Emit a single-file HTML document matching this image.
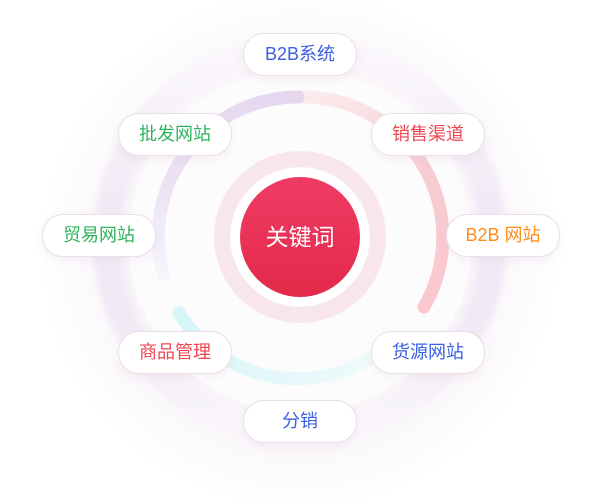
<!DOCTYPE html>
<html><head><meta charset="utf-8">
<style>
html,body{margin:0;padding:0;background:#fff;}
#w{position:relative;width:600px;height:498px;overflow:hidden;font-family:"Liberation Sans","Noto Sans CJK SC",sans-serif;}
svg{position:absolute;left:0;top:0;}
.p{position:absolute;width:112px;height:41px;border-radius:21px;background:#fff;border:1px solid #eadfe6;box-shadow:0 4px 10px rgba(200,170,200,0.15);text-align:center;line-height:41px;font-size:18px;}
.g{color:#2fb35d}.r{color:#ef4650}.b{color:#3a5fe6}.o{color:#ff8c1a}
#c{position:absolute;left:240px;top:177px;width:120px;height:120px;border-radius:50%;background:linear-gradient(#ef3b64,#e42a4a);color:#fff;font-size:23px;text-align:center;line-height:120px;}
</style></head><body><div id="w">
<svg width="600" height="498" viewBox="0 0 600 498">
<defs>
<radialGradient id="glow" cx="300" cy="250" r="260" gradientUnits="userSpaceOnUse">
<stop offset="0.6" stop-color="#f8f3f8"/><stop offset="0.85" stop-color="#fcfafc"/><stop offset="1" stop-color="#fff"/>
</radialGradient>
<linearGradient id="oring" x1="0" y1="40" x2="0" y2="440" gradientUnits="userSpaceOnUse">
<stop offset="0" stop-color="#fbf8fc"/><stop offset="0.4" stop-color="#f1eaf6"/><stop offset="0.7" stop-color="#f1eaf6"/><stop offset="1" stop-color="#faf7fb"/>
</linearGradient>
<filter id="bl"><feGaussianBlur stdDeviation="3"/></filter>
<linearGradient id="pk" x1="300" y1="97" x2="430" y2="310" gradientUnits="userSpaceOnUse">
<stop offset="0" stop-color="#fcecef"/><stop offset="0.5" stop-color="#f6cdd2"/><stop offset="1" stop-color="#fbc8cf"/>
</linearGradient>
<linearGradient id="pu" x1="300" y1="97" x2="160" y2="300" gradientUnits="userSpaceOnUse">
<stop offset="0" stop-color="#e6d6f0"/><stop offset="0.6" stop-color="#ece2f4"/><stop offset="1" stop-color="#fbf9fc"/>
</linearGradient>
<linearGradient id="cy" x1="180" y1="312" x2="380" y2="370" gradientUnits="userSpaceOnUse">
<stop offset="0" stop-color="#d6f6f8"/><stop offset="1" stop-color="#f0fafb"/>
</linearGradient>
</defs>
<circle cx="300" cy="250" r="260" fill="url(#glow)"/>
<circle cx="300" cy="241" r="193" fill="none" stroke="url(#oring)" stroke-width="28" filter="url(#bl)"/>
<circle cx="300" cy="241" r="172" fill="#fdfcfd"/>
<path d="M300 97 A140 140 0 0 1 424 307" fill="none" stroke="url(#pk)" stroke-width="13" stroke-linecap="round"/>
<path d="M298 97 A140 140 0 0 0 165 280" fill="none" stroke="url(#pu)" stroke-width="13"/>
<circle cx="298" cy="97" r="6.5" fill="#e6d6f0"/>
<path d="M179 313 A140 140 0 0 0 380 352" fill="none" stroke="url(#cy)" stroke-width="13" stroke-linecap="round"/>
<circle cx="300" cy="237" r="78" fill="none" stroke="#f8e6ea" stroke-width="16"/>
<circle cx="300" cy="237" r="70" fill="#fff" stroke="#ececec" stroke-width="1" stroke-dasharray="2 2"/>
</svg>
<div id="c">关键词</div>
<div class="p b" style="left:243px;top:33px">B2B系统</div>
<div class="p g" style="left:118px;top:113px">批发网站</div>
<div class="p r" style="left:371px;top:113px">销售渠道</div>
<div class="p g" style="left:42px;top:214px">贸易网站</div>
<div class="p o" style="left:446px;top:214px">B2B 网站</div>
<div class="p r" style="left:118px;top:331px">商品管理</div>
<div class="p b" style="left:371px;top:331px">货源网站</div>
<div class="p b" style="left:243px;top:400px">分销</div>
</div></body></html>
